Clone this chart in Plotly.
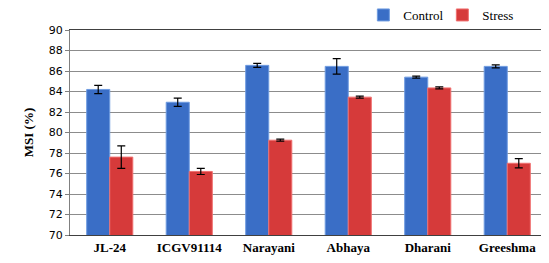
import plotly.graph_objects as go

categories = ["JL-24", "ICGV91114", "Narayani", "Abhaya", "Dharani", "Greeshma"]
control = [84.2, 82.95, 86.55, 86.45, 85.4, 86.45]
control_err = [0.4, 0.4, 0.2, 0.75, 0.1, 0.15]
stress = [77.6, 76.2, 79.25, 83.45, 84.35, 77.0]
stress_err = [1.1, 0.3, 0.1, 0.1, 0.1, 0.45]

fig = go.Figure()
fig.add_trace(go.Bar(
    name="Control", x=categories, y=control,
    marker=dict(color="#3A6EC6", line=dict(color="#6E9BE0", width=1)),
    error_y=dict(type="data", array=control_err, color="black", thickness=1.2, width=4),
))
fig.add_trace(go.Bar(
    name="Stress", x=categories, y=stress,
    marker=dict(color="#D63A3A", line=dict(color="#F07070", width=1)),
    error_y=dict(type="data", array=stress_err, color="black", thickness=1.2, width=4),
))

fig.update_layout(
    width=549, height=263,
    margin=dict(l=62, r=10, t=22, b=36, autoexpand=False),
    barmode="group", bargap=0.42, bargroupgap=0,
    plot_bgcolor="white", paper_bgcolor="white",
    legend=dict(orientation="h", x=0.615, y=1.0, xanchor="left", yanchor="bottom",
                font=dict(family="Liberation Serif", size=13, color="black"),
                itemwidth=30, entrywidth=34, entrywidthmode="pixels",
                tracegroupgap=0, bgcolor="rgba(0,0,0,0)"),
    showlegend=True,
)
fig.update_yaxes(
    range=[70, 90], dtick=2, showgrid=True, gridcolor="#8C8C8C", gridwidth=1,
    tickfont=dict(family="DejaVu Sans", size=11, color="black"),
    showline=True, linecolor="#808080", linewidth=1, mirror=True,
    ticks="outside", ticklen=4, tickcolor="#808080",
    title=dict(text="<b>MSI (%)</b>", font=dict(family="Liberation Serif", size=13, color="black"), standoff=12),
)
fig.update_xaxes(
    tickfont=dict(family="Liberation Serif", size=13, color="black"),
    tickvals=categories, ticktext=["<b>" + c + "</b>" for c in categories],
    showline=True, linecolor="#404040", linewidth=1, mirror=True,
    ticks="",
)
fig.write_html("out.html")
